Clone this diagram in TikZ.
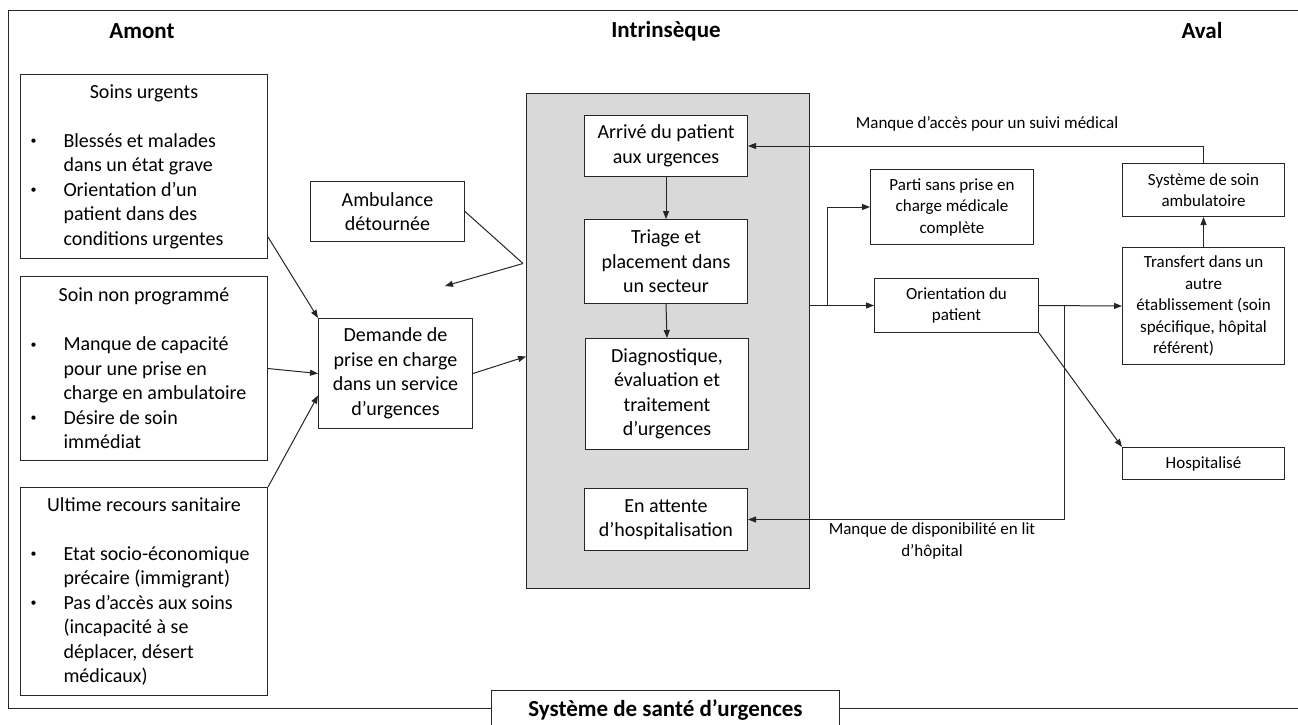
\documentclass[tikz,border=0pt]{standalone}
\usepackage{fontspec}
\setmainfont{Carlito}
\usetikzlibrary{arrows.meta,calc}
\newcommand\mybul{\raisebox{2.5pt}{\fontsize{12}{12}\selectfont •}}
\newcommand\bl[1]{\makebox[247pt][l]{\hspace*{10pt}\makebox[33pt][l]{\mybul}#1}}
\newcommand\cl[1]{\makebox[247pt][l]{\hspace*{43pt}#1}}
\definecolor{linec}{HTML}{262626}
\definecolor{greyfill}{HTML}{D9D9D9}
\tikzset{
  box/.style={draw=linec, line width=1pt, fill=white, inner sep=0pt, anchor=north west, align=center, font=\fontsize{20}{24.5}\selectfont},
  sbox/.style={box, font=\fontsize{17}{21.5}\selectfont},
  lbox/.style={box, minimum width=247pt},
  head/.style={font=\fontsize{23}{28}\selectfont\bfseries, inner sep=0pt},
  small/.style={font=\fontsize{17}{21.5}\selectfont, inner sep=0pt},
  conn/.style={draw=linec, line width=1pt, -{Triangle[length=8pt,width=6pt]}},
  plain/.style={draw=linec, line width=1pt}
}
\begin{document}
\begin{tikzpicture}[x=1pt,y=-1pt]
\useasboundingbox (0,0) rectangle (1298,725);
\clip (0,0) rectangle (1298,725);
% outer frame
\draw[plain] (8,11) rectangle (1330,708);
\node[box, minimum width=348pt, minimum height=40pt, font=\fontsize{23}{28}\selectfont\bfseries] (ttl) at (491,690) {Système de santé d’urgences};
% headings
\node[head] (amont) at (142,31) {Amont};
\node[head] (intr) at (666,31) {Intrinsèque};
\node[head] (aval) at (1202,31) {Aval};
% left boxes
\node[lbox, minimum height=184pt] (su) at (20,74) {Soins urgents\\[24.5pt]\bl{Blessés et malades}\\\cl{dans un état grave}\\\bl{Orientation d’un}\\\cl{patient dans des}\\\cl{conditions urgentes}};
\node[lbox, minimum height=184pt] (snp) at (20,276) {Soin non programmé\\[24.5pt]\bl{Manque de capacité}\\\cl{pour une prise en}\\\cl{charge en ambulatoire}\\\bl{Désire de soin}\\\cl{immédiat}};
\node[lbox, minimum height=208pt] (urs) at (20,487) {Ultime recours sanitaire\\[24.5pt]\bl{Etat socio-économique}\\\cl{précaire (immigrant)}\\\bl{Pas d’accès aux soins}\\\cl{(incapacité à se}\\\cl{déplacer, désert}\\\cl{médicaux)}};
\node[box, minimum width=154pt, minimum height=60pt] (amb) at (310,181) {Ambulance\\détournée};
\node[box, minimum width=154pt, minimum height=110pt] (dem) at (318,318) {Demande de\\prise en charge\\dans un service\\d’urgences};
% intrinsic
\node[draw=linec, line width=1pt, fill=greyfill, inner sep=0pt, anchor=north west, minimum width=283pt, minimum height=495pt] (grey) at (526,93) {};
\node[box, minimum width=163pt, minimum height=61pt] (arr) at (584,115) {Arrivé du patient\\aux urgences};
\node[box, minimum width=163pt, minimum height=84pt] (tri) at (584,219) {Triage et\\placement dans\\un secteur};
\node[box, minimum width=163pt, minimum height=111pt] (dia) at (585,338) {Diagnostique,\\évaluation et\\traitement\\d’urgences};
\node[box, minimum width=163pt, minimum height=62pt] (att) at (584,488) {En attente\\d’hospitalisation};
% right
\node[sbox, minimum width=163pt, minimum height=75pt] (parti) at (870,169) {Parti sans prise en\\charge médicale\\complète};
\node[sbox, minimum width=164pt, minimum height=54pt] (orient) at (874,278) {Orientation du\\patient};
\node[sbox, minimum width=162pt, minimum height=53pt] (sysamb) at (1122,163) {Système de soin\\ambulatoire};
\node[sbox, minimum width=162pt, minimum height=117pt] (transf) at (1122,247) {Transfert dans un\\autre\\établissement (soin\\spécifique, hôpital\\référent)\hspace*{40pt}};
\node[sbox, minimum width=162pt, minimum height=32pt] (hosp) at (1122,447) {Hospitalisé};
\node[small] (lab1) at (987,124) {Manque d’accès pour un suivi médical};
\node[small, align=center] (lab2) at (932,541) {Manque de disponibilité en lit\\d’hôpital};
% connectors
\draw[conn] ($(su.south east)+(0,-22)$) -- (dem.north west);
\draw[conn] (snp.east) -- (dem.west);
\draw[conn] (urs.north east) -- ($(dem.west)+(0,22)$);
\draw[conn] (dem.east) -- ($(grey.west)+(0,15.5)$);
\coordinate (ambv) at ($(grey.west)+(-3,-77.5)$);
\coordinate (ambend) at (445,286);
\draw[plain] (amb.east) -- (ambv);
\draw[conn] (ambv) -- (ambend);
\draw[conn] (arr.south) -- (tri.north);
\draw[conn] (tri.south) -- (dia.north);
\draw[conn] (grey.east |- orient.west) -- (orient.west);
\coordinate (br1) at (827,305);
\draw[conn] (br1) |- (parti.west);
\draw[conn] (orient.east) -- (transf.west);
\coordinate (br2) at (1064,305);
\draw[conn] (br2) |- (att.east);
\draw[conn] (orient.south east) -- (hosp.north west);
\draw[conn] (transf.north) -- (sysamb.south);
\draw[conn] (sysamb.north) |- (arr.east);
\end{tikzpicture}
\end{document}
